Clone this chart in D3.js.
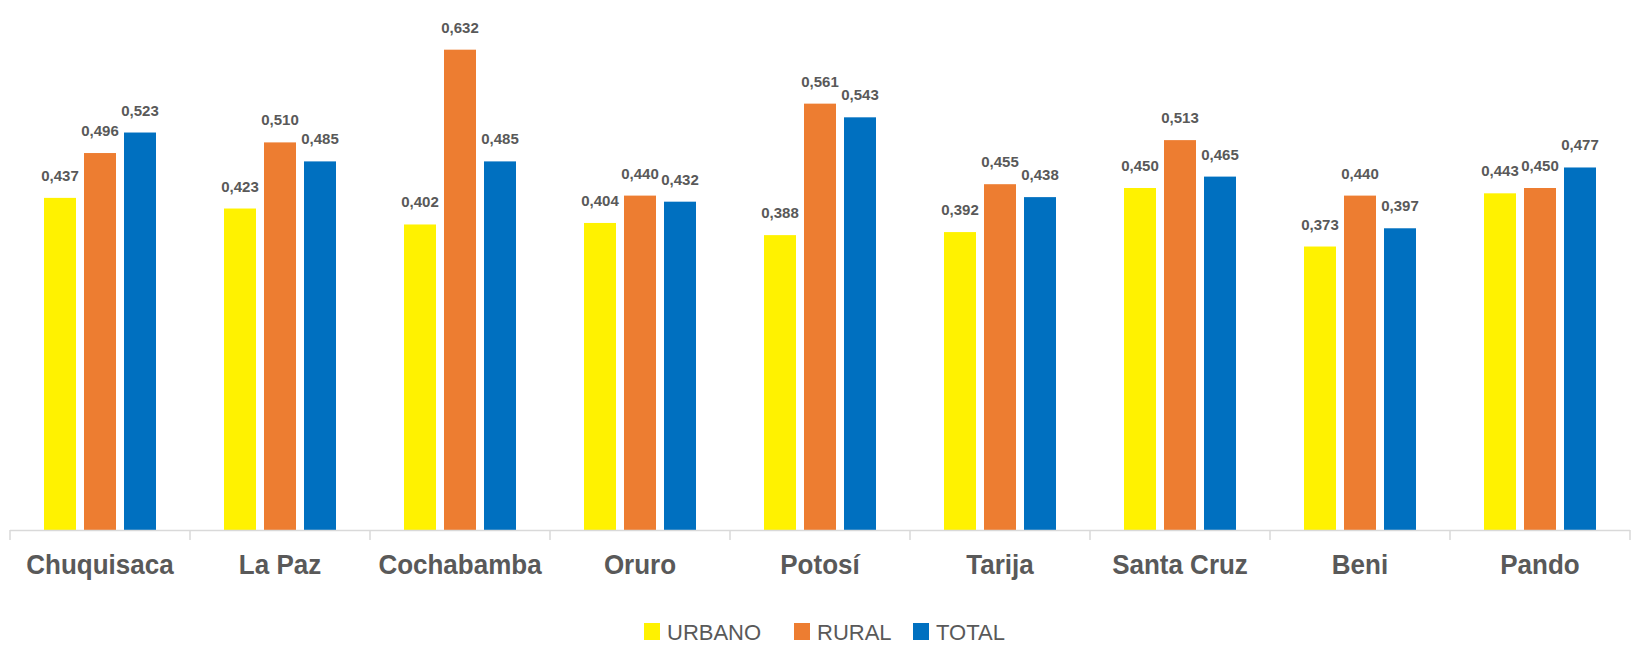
<!DOCTYPE html>
<html><head><meta charset="utf-8">
<script src="https://cdn.jsdelivr.net/npm/d3@7"></script>
<style>body{margin:0;background:#fff}svg{display:block}</style>
</head><body>
<script>
const categories = ["Chuquisaca","La Paz","Cochabamba","Oruro","Potosí","Tarija","Santa Cruz","Beni","Pando"];
const seriesNames = ["URBANO","RURAL","TOTAL"];
const urbano = [0.437,0.423,0.402,0.404,0.388,0.392,0.450,0.373,0.443];
const rural  = [0.496,0.510,0.632,0.440,0.561,0.455,0.513,0.440,0.450];
const total  = [0.523,0.485,0.485,0.432,0.543,0.438,0.465,0.397,0.477];
const colors = ["#FFF200","#ED7D31","#0070C0"];

const W = 1633, H = 648;
const svg = d3.select("body").append("svg").attr("width", W).attr("height", H);
const font = "'Liberation Sans', Arial, sans-serif";
const seriesVals = [urbano, rural, total];

const x = d3.scaleBand().domain(categories).range([10, 1630]);
const xs = d3.scaleBand().domain(seriesNames).range([34, 146]).paddingInner(0.2);
const y = d3.scaleLinear().domain([0, 0.6]).range([530, 74]);

const data = [];
categories.forEach((c, i) => seriesNames.forEach((s, j) => data.push({c, s, j, v: seriesVals[j][i]})));

svg.append("g").selectAll("rect").data(data).join("rect")
  .attr("x", d => x(d.c) + xs(d.s))
  .attr("width", xs.bandwidth())
  .attr("y", d => y(d.v))
  .attr("height", d => y(0) - y(d.v))
  .attr("fill", d => colors[d.j]);

svg.append("g").selectAll("text").data(data).join("text")
  .attr("x", d => x(d.c) + xs(d.s) + xs.bandwidth() / 2)
  .attr("y", d => y(d.v) - 17)
  .attr("text-anchor", "middle")
  .attr("font-family", font).attr("font-weight", "bold").attr("font-size", 15)
  .attr("fill", "#595959")
  .text(d => d.v.toFixed(3).replace(".", ","));

// axis
const ax = svg.append("g").attr("transform", `translate(0,${y(0)})`)
  .call(d3.axisBottom(x).tickSize(0).tickPadding(0).tickFormat(""));
ax.select(".domain").attr("stroke", "#D9D9D9").attr("stroke-width", 1.5).attr("d", "M10,0.5H1630");
ax.selectAll(".tick").remove();
const bounds = categories.map(c => x(c)).concat([x.range()[1]]);
ax.selectAll("line.sep").data(bounds).join("line").attr("class", "sep")
  .attr("x1", d => d).attr("x2", d => d).attr("y1", 0).attr("y2", 10)
  .attr("stroke", "#D9D9D9").attr("stroke-width", 1.5);
ax.selectAll("text.cat").data(categories).join("text").attr("class", "cat")
  .attr("transform", d => `translate(${x(d) + x.bandwidth() / 2},44) scale(1,1.08)`)
  .attr("text-anchor", "middle")
  .attr("font-family", font).attr("font-weight", "bold").attr("font-size", 26)
  .attr("fill", "#595959")
  .text(d => d);

// legend
const legX = [644, 794, 913];
const lg = svg.append("g");
seriesNames.forEach((s, j) => {
  lg.append("rect").attr("x", legX[j]).attr("y", 623).attr("width", 16).attr("height", 17).attr("fill", colors[j]);
  lg.append("text").attr("x", legX[j] + 23).attr("y", 640)
    .attr("font-family", font).attr("font-size", 22).attr("fill", "#595959").text(s);
});
</script>
</body></html>
